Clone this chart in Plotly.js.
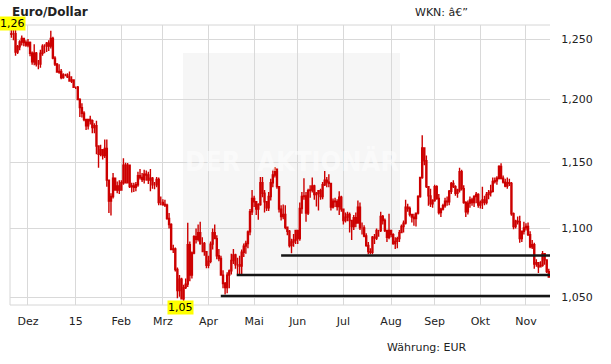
<!DOCTYPE html>
<html>
<head>
<meta charset="utf-8">
<script src="https://cdn.plot.ly/plotly-3.0.1.min.js"></script>
<style>html,body{margin:0;padding:0;background:#fff;}#chart{width:611px;height:364px;}</style>
</head>
<body>
<div id="chart"></div>
<script>
// ---- data: EUR/USD daily OHLC (weekdays) ----
const dates = [
 '2014-11-19','2014-11-20','2014-11-21',
 '2014-11-24','2014-11-25','2014-11-26','2014-11-27','2014-11-28',
 '2014-12-01','2014-12-02','2014-12-03','2014-12-04','2014-12-05',
 '2014-12-08','2014-12-09','2014-12-10','2014-12-11','2014-12-12',
 '2014-12-15','2014-12-16','2014-12-17','2014-12-18','2014-12-19',
 '2014-12-22','2014-12-23','2014-12-24','2014-12-25','2014-12-26',
 '2014-12-29','2014-12-30','2014-12-31','2015-01-01','2015-01-02',
 '2015-01-05','2015-01-06','2015-01-07','2015-01-08','2015-01-09',
 '2015-01-12','2015-01-13','2015-01-14','2015-01-15','2015-01-16',
 '2015-01-19','2015-01-20','2015-01-21','2015-01-22','2015-01-23',
 '2015-01-26','2015-01-27','2015-01-28','2015-01-29','2015-01-30',
 '2015-02-02','2015-02-03','2015-02-04','2015-02-05','2015-02-06',
 '2015-02-09','2015-02-10','2015-02-11','2015-02-12','2015-02-13',
 '2015-02-16','2015-02-17','2015-02-18','2015-02-19','2015-02-20',
 '2015-02-23','2015-02-24','2015-02-25','2015-02-26','2015-02-27',
 '2015-03-02','2015-03-03','2015-03-04','2015-03-05','2015-03-06',
 '2015-03-09','2015-03-10','2015-03-11','2015-03-12','2015-03-13',
 '2015-03-16','2015-03-17','2015-03-18','2015-03-19','2015-03-20',
 '2015-03-23','2015-03-24','2015-03-25','2015-03-26','2015-03-27',
 '2015-03-30','2015-03-31','2015-04-01','2015-04-02','2015-04-03',
 '2015-04-06','2015-04-07','2015-04-08','2015-04-09','2015-04-10',
 '2015-04-13','2015-04-14','2015-04-15','2015-04-16','2015-04-17',
 '2015-04-20','2015-04-21','2015-04-22','2015-04-23','2015-04-24',
 '2015-04-27','2015-04-28','2015-04-29','2015-04-30','2015-05-01',
 '2015-05-04','2015-05-05','2015-05-06','2015-05-07','2015-05-08',
 '2015-05-11','2015-05-12','2015-05-13','2015-05-14','2015-05-15',
 '2015-05-18','2015-05-19','2015-05-20','2015-05-21','2015-05-22',
 '2015-05-25','2015-05-26','2015-05-27','2015-05-28','2015-05-29',
 '2015-06-01','2015-06-02','2015-06-03','2015-06-04','2015-06-05',
 '2015-06-08','2015-06-09','2015-06-10','2015-06-11','2015-06-12',
 '2015-06-15','2015-06-16','2015-06-17','2015-06-18','2015-06-19',
 '2015-06-22','2015-06-23','2015-06-24','2015-06-25','2015-06-26',
 '2015-06-29','2015-06-30','2015-07-01','2015-07-02','2015-07-03',
 '2015-07-06','2015-07-07','2015-07-08','2015-07-09','2015-07-10',
 '2015-07-13','2015-07-14','2015-07-15','2015-07-16','2015-07-17',
 '2015-07-20','2015-07-21','2015-07-22','2015-07-23','2015-07-24',
 '2015-07-27','2015-07-28','2015-07-29','2015-07-30','2015-07-31',
 '2015-08-03','2015-08-04','2015-08-05','2015-08-06','2015-08-07',
 '2015-08-10','2015-08-11','2015-08-12','2015-08-13','2015-08-14',
 '2015-08-17','2015-08-18','2015-08-19','2015-08-20','2015-08-21',
 '2015-08-24','2015-08-25','2015-08-26','2015-08-27','2015-08-28',
 '2015-08-31','2015-09-01','2015-09-02','2015-09-03','2015-09-04',
 '2015-09-07','2015-09-08','2015-09-09','2015-09-10','2015-09-11',
 '2015-09-14','2015-09-15','2015-09-16','2015-09-17','2015-09-18',
 '2015-09-21','2015-09-22','2015-09-23','2015-09-24','2015-09-25',
 '2015-09-28','2015-09-29','2015-09-30','2015-10-01','2015-10-02',
 '2015-10-05','2015-10-06','2015-10-07','2015-10-08','2015-10-09',
 '2015-10-12','2015-10-13','2015-10-14','2015-10-15','2015-10-16',
 '2015-10-19','2015-10-20','2015-10-21','2015-10-22','2015-10-23',
 '2015-10-26','2015-10-27','2015-10-28','2015-10-29','2015-10-30',
 '2015-11-02','2015-11-03','2015-11-04','2015-11-05','2015-11-06',
 '2015-11-09','2015-11-10','2015-11-11','2015-11-12','2015-11-13',
 '2015-11-16','2015-11-17'
];
const open = [
 1.2540,1.2545,1.2545,
 1.2390,1.2435,1.2475,1.2505,1.2470,
 1.2450,1.2470,1.2380,1.2310,1.2380,
 1.2290,1.2290,1.2380,1.2440,1.2440,
 1.2465,1.2440,1.2505,1.2340,1.2290,
 1.2225,1.2230,1.2180,1.2200,1.2200,
 1.2185,1.2150,1.2160,1.2100,1.2100,
 1.2000,1.1935,1.1890,1.1840,1.1790,
 1.1840,1.1830,1.1775,1.1790,1.1630,
 1.1565,1.1600,1.1555,1.1610,1.1365,
 1.1205,1.1240,1.1380,1.1290,1.1320,
 1.1290,1.1345,1.1480,1.1345,1.1480,
 1.1315,1.1320,1.1310,1.1330,1.1400,
 1.1385,1.1370,1.1410,1.1405,1.1365,
 1.1380,1.1330,1.1330,1.1370,1.1195,
 1.1195,1.1180,1.1175,1.1075,1.1030,
 1.0845,1.0850,1.0700,1.0550,1.0630,
 1.0490,1.0570,1.0595,1.0880,1.0660,
 1.0820,1.0940,1.0920,1.0970,1.0890,
 1.0890,1.0830,1.0730,1.0760,1.0885,
 1.0970,1.0925,1.0800,1.0780,1.0660,
 1.0600,1.0570,1.0660,1.0690,1.0765,
 1.0805,1.0735,1.0735,1.0725,1.0825,
 1.0870,1.0890,1.0975,1.1125,1.1225,
 1.1200,1.1145,1.1180,1.1345,1.1265,
 1.1200,1.1155,1.1240,1.1345,1.1405,
 1.1450,1.1315,1.1145,1.1090,1.1105,
 1.1010,1.0980,1.0875,1.0900,1.0915,
 1.0985,1.0925,1.1150,1.1240,1.1245,
 1.1115,1.1285,1.1290,1.1320,1.1255,
 1.1265,1.1285,1.1240,1.1330,1.1365,
 1.1350,1.1340,1.1160,1.1205,1.1200,
 1.1165,1.1235,1.1145,1.1060,1.1085,
 1.1105,1.1060,1.1015,1.1080,1.1040,
 1.1160,1.1005,1.1005,1.0945,1.0875,
 1.0830,1.0825,1.0935,1.0930,1.0985,
 1.0985,1.1090,1.1060,1.0985,1.0935,
 1.0985,1.0955,1.0890,1.0905,1.0925,
 1.0970,1.1015,1.1040,1.1160,1.1150,
 1.1105,1.1085,1.1075,1.1115,1.1240,
 1.1385,1.1615,1.1515,1.1315,1.1245,
 1.1185,1.1210,1.1315,1.1225,1.1120,
 1.1145,1.1170,1.1205,1.1200,1.1280,
 1.1340,1.1315,1.1265,1.1290,1.1430,
 1.1300,1.1195,1.1125,1.1190,1.1215,
 1.1195,1.1240,1.1255,1.1175,1.1195,
 1.1215,1.1195,1.1255,1.1270,1.1280,
 1.1355,1.1360,1.1380,1.1470,1.1380,
 1.1350,1.1320,1.1345,1.1340,1.1110,
 1.1015,1.1055,1.1050,1.0925,1.0980,
 1.1005,1.1015,1.0955,1.0865,1.0880,
 1.0740,1.0750,1.0720,1.0730,1.0815,
 1.0770,1.0685
];
const high = [
 1.2601,1.2580,1.2600,
 1.2450,1.2490,1.2530,1.2510,1.2490,
 1.2500,1.2480,1.2395,1.2455,1.2390,
 1.2325,1.2410,1.2455,1.2455,1.2475,
 1.2490,1.2570,1.2520,1.2355,1.2300,
 1.2290,1.2250,1.2215,1.2210,1.2215,
 1.2230,1.2190,1.2165,1.2105,1.2110,
 1.2010,1.1970,1.1905,1.1845,1.1845,
 1.1870,1.1840,1.1810,1.1830,1.1635,
 1.1640,1.1605,1.1680,1.1680,1.1370,
 1.1265,1.1420,1.1385,1.1355,1.1365,
 1.1365,1.1534,1.1500,1.1498,1.1485,
 1.1345,1.1345,1.1350,1.1430,1.1450,
 1.1420,1.1445,1.1440,1.1430,1.1450,
 1.1390,1.1350,1.1390,1.1385,1.1240,
 1.1220,1.1215,1.1185,1.1115,1.1040,
 1.0880,1.0860,1.0715,1.0660,1.0640,
 1.0590,1.0635,1.1043,1.0905,1.0830,
 1.0950,1.1000,1.1030,1.1050,1.0935,
 1.0900,1.0835,1.0800,1.0905,1.1000,
 1.1030,1.0950,1.0850,1.0800,1.0695,
 1.0610,1.0680,1.0700,1.0815,1.0850,
 1.0815,1.0785,1.0800,1.0845,1.0890,
 1.0910,1.0985,1.1145,1.1290,1.1245,
 1.1205,1.1190,1.1390,1.1390,1.1290,
 1.1205,1.1275,1.1375,1.1445,1.1467,
 1.1455,1.1320,1.1175,1.1180,1.1175,
 1.1015,1.0990,1.0925,1.0960,1.0990,
 1.0990,1.1195,1.1275,1.1380,1.1275,
 1.1300,1.1325,1.1385,1.1330,1.1275,
 1.1285,1.1300,1.1350,1.1436,1.1390,
 1.1410,1.1345,1.1225,1.1230,1.1220,
 1.1280,1.1245,1.1150,1.1120,1.1125,
 1.1120,1.1065,1.1100,1.1120,1.1210,
 1.1195,1.1045,1.1025,1.0965,1.0900,
 1.0855,1.0945,1.0960,1.1000,1.0990,
 1.1125,1.1100,1.1075,1.0990,1.1110,
 1.0990,1.0965,1.0935,1.0940,1.0990,
 1.1030,1.1060,1.1215,1.1185,1.1165,
 1.1110,1.1110,1.1120,1.1250,1.1390,
 1.1714,1.1620,1.1555,1.1320,1.1300,
 1.1220,1.1330,1.1325,1.1260,1.1155,
 1.1185,1.1230,1.1240,1.1290,1.1350,
 1.1365,1.1325,1.1300,1.1460,1.1445,
 1.1325,1.1205,1.1210,1.1240,1.1230,
 1.1250,1.1275,1.1265,1.1210,1.1315,
 1.1245,1.1275,1.1290,1.1330,1.1385,
 1.1385,1.1395,1.1480,1.1495,1.1400,
 1.1375,1.1385,1.1375,1.1350,1.1120,
 1.1065,1.1090,1.1095,1.0985,1.1050,
 1.1040,1.1045,1.0980,1.0915,1.0895,
 1.0775,1.0755,1.0760,1.0835,1.0820,
 1.0775,1.0705
];
const low = [
 1.2510,1.2490,1.2359,
 1.2375,1.2405,1.2445,1.2440,1.2435,
 1.2430,1.2355,1.2285,1.2280,1.2270,
 1.2247,1.2260,1.2360,1.2380,1.2390,
 1.2400,1.2420,1.2330,1.2275,1.2220,
 1.2210,1.2165,1.2170,1.2190,1.2175,
 1.2145,1.2135,1.2095,1.2085,1.2000,
 1.1860,1.1855,1.1825,1.1755,1.1760,
 1.1800,1.1730,1.1730,1.1565,1.1460,
 1.1550,1.1525,1.1535,1.1315,1.1115,
 1.1098,1.1225,1.1285,1.1265,1.1260,
 1.1290,1.1330,1.1340,1.1340,1.1305,
 1.1270,1.1275,1.1280,1.1315,1.1370,
 1.1350,1.1340,1.1360,1.1335,1.1280,
 1.1300,1.1295,1.1310,1.1175,1.1175,
 1.1170,1.1160,1.1065,1.1000,1.0840,
 1.0820,1.0685,1.0495,1.0505,1.0485,
 1.0458,1.0560,1.0575,1.0615,1.0635,
 1.0810,1.0890,1.0905,1.0880,1.0825,
 1.0800,1.0710,1.0710,1.0745,1.0845,
 1.0925,1.0775,1.0760,1.0655,1.0565,
 1.0521,1.0530,1.0565,1.0665,1.0740,
 1.0705,1.0665,1.0665,1.0660,1.0790,
 1.0815,1.0855,1.0950,1.1100,1.1160,
 1.1100,1.1065,1.1170,1.1235,1.1120,
 1.1130,1.1130,1.1210,1.1310,1.1385,
 1.1300,1.1120,1.1060,1.1070,1.0995,
 1.0950,1.0860,1.0819,1.0865,1.0885,
 1.0885,1.0910,1.1110,1.1215,1.1050,
 1.1100,1.1230,1.1270,1.1215,1.1165,
 1.1135,1.1215,1.1220,1.1320,1.1310,
 1.1310,1.1135,1.1150,1.1160,1.1135,
 1.1100,1.1125,1.1030,1.1045,1.1055,
 1.0970,1.0915,1.0990,1.1010,1.1035,
 1.0990,1.0955,1.0935,1.0865,1.0810,
 1.0810,1.0810,1.0885,1.0915,1.0940,
 1.0975,1.1030,1.0975,1.0900,1.0920,
 1.0935,1.0880,1.0850,1.0855,1.0900,
 1.0965,1.0970,1.1030,1.1125,1.1090,
 1.1045,1.1020,1.1015,1.1105,1.1230,
 1.1375,1.1480,1.1305,1.1170,1.1160,
 1.1155,1.1200,1.1215,1.1105,1.1085,
 1.1135,1.1155,1.1170,1.1175,1.1260,
 1.1305,1.1245,1.1230,1.1270,1.1285,
 1.1185,1.1085,1.1105,1.1155,1.1170,
 1.1160,1.1190,1.1155,1.1150,1.1145,
 1.1175,1.1180,1.1220,1.1240,1.1270,
 1.1340,1.1330,1.1370,1.1370,1.1340,
 1.1310,1.1300,1.1320,1.1095,1.0995,
 1.1000,1.1030,1.0895,1.0900,1.0955,
 1.0985,1.0945,1.0855,1.0850,1.0705,
 1.0720,1.0675,1.0715,1.0720,1.0735,
 1.0675,1.0645
];
const close = [
 1.2545,1.2545,1.2390,
 1.2435,1.2475,1.2505,1.2470,1.2450,
 1.2470,1.2380,1.2310,1.2380,1.2290,
 1.2290,1.2380,1.2440,1.2440,1.2465,
 1.2440,1.2505,1.2340,1.2290,1.2225,
 1.2230,1.2180,1.2200,1.2200,1.2185,
 1.2150,1.2160,1.2100,1.2100,1.2000,
 1.1935,1.1890,1.1840,1.1790,1.1840,
 1.1830,1.1775,1.1790,1.1630,1.1565,
 1.1600,1.1555,1.1610,1.1365,1.1205,
 1.1240,1.1380,1.1290,1.1320,1.1290,
 1.1345,1.1480,1.1345,1.1480,1.1315,
 1.1320,1.1310,1.1330,1.1400,1.1385,
 1.1370,1.1410,1.1405,1.1365,1.1380,
 1.1330,1.1330,1.1370,1.1195,1.1195,
 1.1180,1.1175,1.1075,1.1030,1.0845,
 1.0850,1.0700,1.0550,1.0630,1.0490,
 1.0570,1.0595,1.0880,1.0660,1.0820,
 1.0940,1.0920,1.0970,1.0890,1.0890,
 1.0830,1.0730,1.0760,1.0885,1.0970,
 1.0925,1.0800,1.0780,1.0660,1.0600,
 1.0570,1.0660,1.0690,1.0765,1.0805,
 1.0735,1.0735,1.0725,1.0825,1.0870,
 1.0890,1.0975,1.1125,1.1225,1.1200,
 1.1145,1.1180,1.1345,1.1265,1.1200,
 1.1155,1.1240,1.1345,1.1405,1.1450,
 1.1315,1.1145,1.1090,1.1105,1.1010,
 1.0980,1.0875,1.0900,1.0915,1.0985,
 1.0925,1.1150,1.1240,1.1245,1.1115,
 1.1285,1.1290,1.1320,1.1255,1.1265,
 1.1285,1.1240,1.1330,1.1365,1.1350,
 1.1340,1.1160,1.1205,1.1200,1.1165,
 1.1235,1.1145,1.1060,1.1085,1.1105,
 1.1060,1.1015,1.1080,1.1040,1.1160,
 1.1005,1.1005,1.0945,1.0875,1.0830,
 1.0825,1.0935,1.0930,1.0985,1.0985,
 1.1090,1.1060,1.0985,1.0935,1.0985,
 1.0955,1.0890,1.0905,1.0925,1.0970,
 1.1015,1.1040,1.1160,1.1150,1.1105,
 1.1085,1.1075,1.1115,1.1240,1.1385,
 1.1615,1.1515,1.1315,1.1245,1.1185,
 1.1210,1.1315,1.1225,1.1120,1.1145,
 1.1170,1.1205,1.1200,1.1280,1.1340,
 1.1315,1.1265,1.1290,1.1430,1.1300,
 1.1195,1.1125,1.1190,1.1215,1.1195,
 1.1240,1.1255,1.1175,1.1195,1.1215,
 1.1195,1.1255,1.1270,1.1280,1.1355,
 1.1360,1.1380,1.1470,1.1380,1.1350,
 1.1320,1.1345,1.1340,1.1110,1.1015,
 1.1055,1.1050,1.0925,1.0980,1.1005,
 1.1015,1.0955,1.0865,1.0880,1.0740,
 1.0750,1.0720,1.0730,1.0815,1.0770,
 1.0685,1.0645
];
// axis ticks
const monthTicks = ['2014-12-01','2015-01-01','2015-02-02','2015-03-02','2015-04-01','2015-05-01',
                    '2015-06-01','2015-07-01','2015-08-03','2015-09-01','2015-10-01','2015-11-02'];
const monthLabels = ['Dez','15','Feb','Mrz','Apr','Mai','Jun','Jul','Aug','Sep','Okt','Nov'];
const yTicks = [1.05, 1.10, 1.15, 1.20, 1.25];
const yTickLabels = ['1,050','1,100','1,150','1,200','1,250'];
// support lines (level, start date)
const supportLevels = [1.0802, 1.0661, 1.0511];
const supportStarts = ['2015-05-20', '2015-04-20 14:00', '2015-04-08 22:00'];

// ---- chart ----
const RED = '#cc0000';
const xEnd = '2015-11-17 14:00';
const trace = {
  type: 'candlestick', x: dates, open: open, high: high, low: low, close: close,
  increasing: {line: {color: RED, width: 1.4}, fillcolor: '#ffffff'},
  decreasing: {line: {color: RED, width: 1.4}, fillcolor: RED},
  whiskerwidth: 0, hoverinfo: 'skip', showlegend: false
};

let maxI = 0, minI = 0;
for (let i = 0; i < high.length; i++) { if (high[i] > high[maxI]) maxI = i; if (low[i] < low[minI]) minI = i; }
const fmt2 = v => v.toFixed(2).replace('.', ',');

const shapes = [
  {type:'rect', xref:'paper', yref:'paper', x0:0.3204, x1:0.7222, y0:0.125, y1:0.9,
   fillcolor:'#f6f6f6', line:{width:0}, layer:'below'},
  {type:'line', xref:'paper', yref:'paper', x0:0, x1:0, y0:0, y1:1, line:{color:'#d6d6d6', width:1}, layer:'below'},
  {type:'line', xref:'paper', yref:'paper', x0:0, x1:1, y0:1, y1:1, line:{color:'#d6d6d6', width:1}, layer:'below'},
  {type:'line', xref:'paper', yref:'paper', x0:0, x1:1, y0:0, y1:0, line:{color:'#d6d6d6', width:1}, layer:'below'}
];
supportLevels.forEach((lv, k) => {
  shapes.push({type:'line', xref:'x', yref:'y', x0: supportStarts[k], x1: xEnd,
    y0: lv, y1: lv, line:{color:'#151515', width:2.5}, layer:'above'});
});

const annotations = [
  {text:'WKN: \u00e2\u20ac\u201d', xref:'paper', yref:'paper', x:0.747, y:1.043, xanchor:'left', yanchor:'middle',
   showarrow:false, font:{size:11, color:'#222'}},
  {text:'W\u00e4hrung: EUR', xref:'paper', yref:'paper', x:0.773, y:-0.15, xanchor:'center', yanchor:'middle',
   showarrow:false, font:{size:11, color:'#222'}},
  {text:'<b>DER  AKTION\u00c4R</b>', xref:'paper', yref:'paper', x:0.522, y:0.514, xanchor:'center', yanchor:'middle',
   showarrow:false, font:{size:27, color:'rgba(255,255,255,0.55)', family:'Liberation Sans Narrow, DejaVu Sans Condensed, Liberation Sans, sans-serif'}},
  {text: fmt2(high[maxI]), x: dates[maxI], y: Math.log10(high[maxI]), xref:'x', yref:'y',
   xanchor:'center', yanchor:'middle', xshift:1, yshift:4, showarrow:false, bgcolor:'#ffff00', borderpad:0,
   font:{size:11, color:'#000'}},
  {text: fmt2(low[minI]), x: dates[minI], y: Math.log10(low[minI]), xref:'x', yref:'y',
   xanchor:'center', yanchor:'middle', xshift:-3, yshift:-4, showarrow:false, bgcolor:'#ffff00', borderpad:0,
   font:{size:11, color:'#000'}}
];

const layout = {
  width: 611, height: 364,
  margin: {l:10, r:61, t:25, b:59, pad:0},
  paper_bgcolor:'#ffffff', plot_bgcolor:'rgba(0,0,0,0)',
  font: {family:'DejaVu Sans, Verdana, sans-serif', size:11, color:'#222'},
  separators: ',.',
  showlegend: false,
  title: {text:'<b>Euro/Dollar</b>', font:{size:12, color:'#222'}, xref:'container', yref:'container',
          x: 12/611, xanchor:'left', y: 1 - 11.5/364, yanchor:'middle'},
  xaxis: {
    type:'date', range:['2014-11-18 08:00', xEnd],
    rangebreaks:[{bounds:['sat','mon']}],
    tickmode:'array', tickvals: monthTicks, ticktext: monthLabels,
    showgrid:true, gridcolor:'#d9d9d9', gridwidth:1,
    ticks:'outside', ticklen:6, tickcolor:'rgba(0,0,0,0)',
    showline:false, zeroline:false, rangeslider:{visible:false},
    tickfont:{size:11, color:'#222'}, fixedrange:true
  },
  yaxis: {
    type:'log', side:'right', range:[Math.log10(1.0447), Math.log10(1.26187)],
    tickmode:'array', tickvals: yTicks, ticktext: yTickLabels,
    showgrid:true, gridcolor:'#d9d9d9', gridwidth:1,
    ticks:'outside', ticklen:8, tickcolor:'rgba(0,0,0,0)',
    showline:false, zeroline:false, tickfont:{size:11, color:'#222'}, fixedrange:true
  },
  shapes: shapes,
  annotations: annotations
};

Plotly.newPlot('chart', [trace], layout, {displayModeBar:false, staticPlot:true});
</script>
</body>
</html>
